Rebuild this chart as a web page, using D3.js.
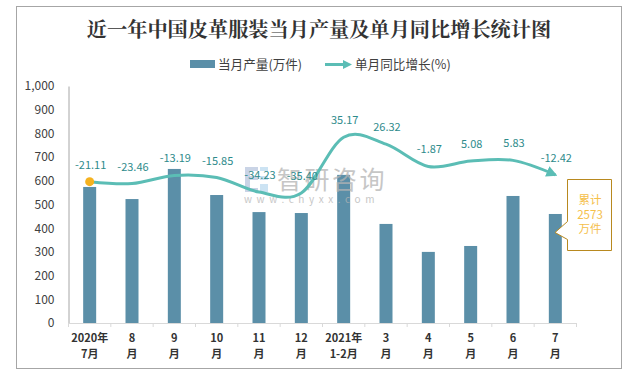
<!DOCTYPE html>
<html>
<head>
<meta charset="utf-8">
<script src="https://cdn.jsdelivr.net/npm/d3@7"></script>
<style>
html, body { margin: 0; padding: 0; background: #fff; }
text { font-family: "Noto Sans CJK SC", sans-serif; }
</style>
</head>
<body>
<svg id="chart" width="629" height="370"></svg>
<script>
var categories = ["2020年7月", "8月", "9月", "10月", "11月", "12月", "2021年1-2月", "3月", "4月", "5月", "6月", "7月"];
var xLines = [["2020年", "7月"], ["8", "月"], ["9", "月"], ["10", "月"], ["11", "月"], ["12", "月"],
  ["2021年", "1-2月"], ["3", "月"], ["4", "月"], ["5", "月"], ["6", "月"], ["7", "月"]];
var output = [574, 523, 650, 540, 468, 464, 625, 418, 300, 325, 536, 460];
var growth = [-21.11, -23.46, -13.19, -15.85, -34.23, -35.40, 35.17, 26.32, -1.87, 5.08, 5.83, -12.42];
var yTicks = [0, 100, 200, 300, 400, 500, 600, 700, 800, 900, 1000];
var noteLines = ["累计", "2573", "万件"];

var barColor = "#5B8FA8", lineColor = "#5BBDB5", labelColor = "#2E8B8B", noteColor = "#F5C04A";

var svg = d3.select("#chart");
var margin = { left: 68.5, right: 576.5, top: 86, bottom: 323 };

var x = d3.scaleBand().domain(categories).range([margin.left, margin.right]);
var y = d3.scaleLinear().domain([0, 1000]).range([margin.bottom, margin.top]);
var y2 = d3.scaleLinear().domain([-200, 100]).range([margin.bottom, margin.top]);
var cx = function (c) { return x(c) + x.bandwidth() / 2; };

// outer frame
svg.append("rect").attr("x", 16.5).attr("y", 6.5).attr("width", 605).attr("height", 362)
  .attr("fill", "#fff").attr("stroke", "#A6A6A6").attr("stroke-width", 1);

// title
svg.append("text").attr("x", 319).attr("y", 37).attr("text-anchor", "middle")
  .style("font-family", "'Noto Serif CJK SC','Noto Sans CJK SC',serif").style("font-weight", "700")
  .style("font-size", "20.2px").attr("fill", "#333").text("近一年中国皮革服装当月产量及单月同比增长统计图");

// legend
svg.append("rect").attr("x", 190).attr("y", 60).attr("width", 25).attr("height", 8).attr("fill", barColor);
svg.append("text").attr("x", 218).attr("y", 69).style("font-size", "12.6px").attr("fill", "#404040").text("当月产量(万件)");
svg.append("line").attr("x1", 325).attr("x2", 345).attr("y1", 64.5).attr("y2", 64.5)
  .attr("stroke", lineColor).attr("stroke-width", 3);
svg.append("path").attr("d", "M343,60L352,64.5L343,69Z").attr("fill", lineColor);
svg.append("text").attr("x", 355).attr("y", 69).style("font-size", "12.6px").attr("fill", "#404040").text("单月同比增长(%)");

// bars
svg.append("g").selectAll("rect").data(categories).join("rect")
  .attr("x", function (d) { return cx(d) - 6.5; })
  .attr("width", 13)
  .attr("y", function (d, i) { return y(output[i]); })
  .attr("height", function (d, i) { return y(0) - y(output[i]); })
  .attr("fill", barColor);

// axes
var yAxis = d3.axisLeft(y).tickValues(yTicks).tickSize(0).tickFormat(d3.format(","));
var gy = svg.append("g").attr("transform", "translate(" + margin.left + ",0)").call(yAxis);
gy.select(".domain").attr("stroke", "#A6A6A6");
gy.selectAll("text").attr("x", -14).style("font-size", "12px").attr("fill", "#404040");

svg.append("line").attr("x1", margin.left).attr("x2", margin.right).attr("y1", margin.bottom + 0.5).attr("y2", margin.bottom + 0.5)
  .attr("stroke", "#D9D9D9");
svg.append("g").selectAll("line").data(d3.range(13)).join("line")
  .attr("x1", function (d) { return margin.left + d * x.step(); })
  .attr("x2", function (d) { return margin.left + d * x.step(); })
  .attr("y1", margin.bottom).attr("y2", margin.bottom + 4).attr("stroke", "#D9D9D9");

var xl = svg.append("g").selectAll("text").data(categories).join("text")
  .attr("text-anchor", "middle").style("font-size", "11px").style("font-weight", "700").attr("fill", "#333");
xl.each(function (d, i) {
  d3.select(this).selectAll("tspan").data(xLines[i]).join("tspan")
    .attr("x", cx(d)).attr("y", function (t, j) { return 342 + j * 16; }).text(function (t) { return t; });
});

// watermark, semi transparent over the bars
var wm = svg.append("g").attr("opacity", 0.75);
wm.append("text").attr("x", 277).attr("y", 189).style("font-size", "25px").style("letter-spacing", "2.5px")
  .attr("fill", "#B4B4B4").text("智研咨询");
wm.append("text").attr("x", 244).attr("y", 203).style("font-size", "10px").style("letter-spacing", "4.6px")
  .attr("fill", "#B4B4B4").text("www.chyxx.com");
wm.append("path").attr("d", "M245,167H258V171H250V176H258V180H250V188H258V192H245Z").attr("fill", "#B9C6DE");
wm.append("path").attr("d", "M260,167H268V171H260ZM260,176H268V180H260ZM260,184H268V192H260Z").attr("fill", "#BBDAF0");

// growth line
var line = d3.line().x(function (d, i) { return cx(categories[i]); }).y(function (d) { return y2(d); })
  .curve(d3.curveCardinal.tension(0));
svg.append("defs").append("marker").attr("id", "arrow").attr("markerUnits", "userSpaceOnUse")
  .attr("viewBox", "0 0 10 10").attr("refX", 8).attr("refY", 5).attr("markerWidth", 11).attr("markerHeight", 11)
  .attr("orient", "auto").append("path").attr("d", "M0,0L10,5L0,10Z").attr("fill", lineColor);
svg.append("path").attr("d", line(growth)).attr("fill", "none").attr("stroke", lineColor)
  .attr("stroke-width", 3).attr("marker-end", "url(#arrow)");
svg.append("circle").attr("cx", cx(categories[0])).attr("cy", y2(growth[0])).attr("r", 4.5).attr("fill", "#F5B21F");

// value labels
svg.append("g").selectAll("text").data(growth).join("text")
  .attr("x", function (d, i) { return cx(categories[i]) + 1; })
  .attr("y", function (d) { return y2(d) - 13; })
  .attr("text-anchor", "middle").style("font-size", "11px").attr("fill", labelColor)
  .text(function (d) { return d.toFixed(2); });

// note callout
svg.append("path").attr("d", "M567.5,179.5H611.5V250.5H567.5V239.5L555,232.5L567.5,221.5Z")
  .attr("fill", "#fff").attr("stroke", "#B8891F");
svg.append("g").selectAll("text").data(noteLines).join("text")
  .attr("x", 590).attr("y", function (d, i) { return 204 + i * 14.5; })
  .attr("text-anchor", "middle").style("font-size", "11.5px").attr("fill", noteColor).text(function (d) { return d; });
</script>
</body>
</html>
